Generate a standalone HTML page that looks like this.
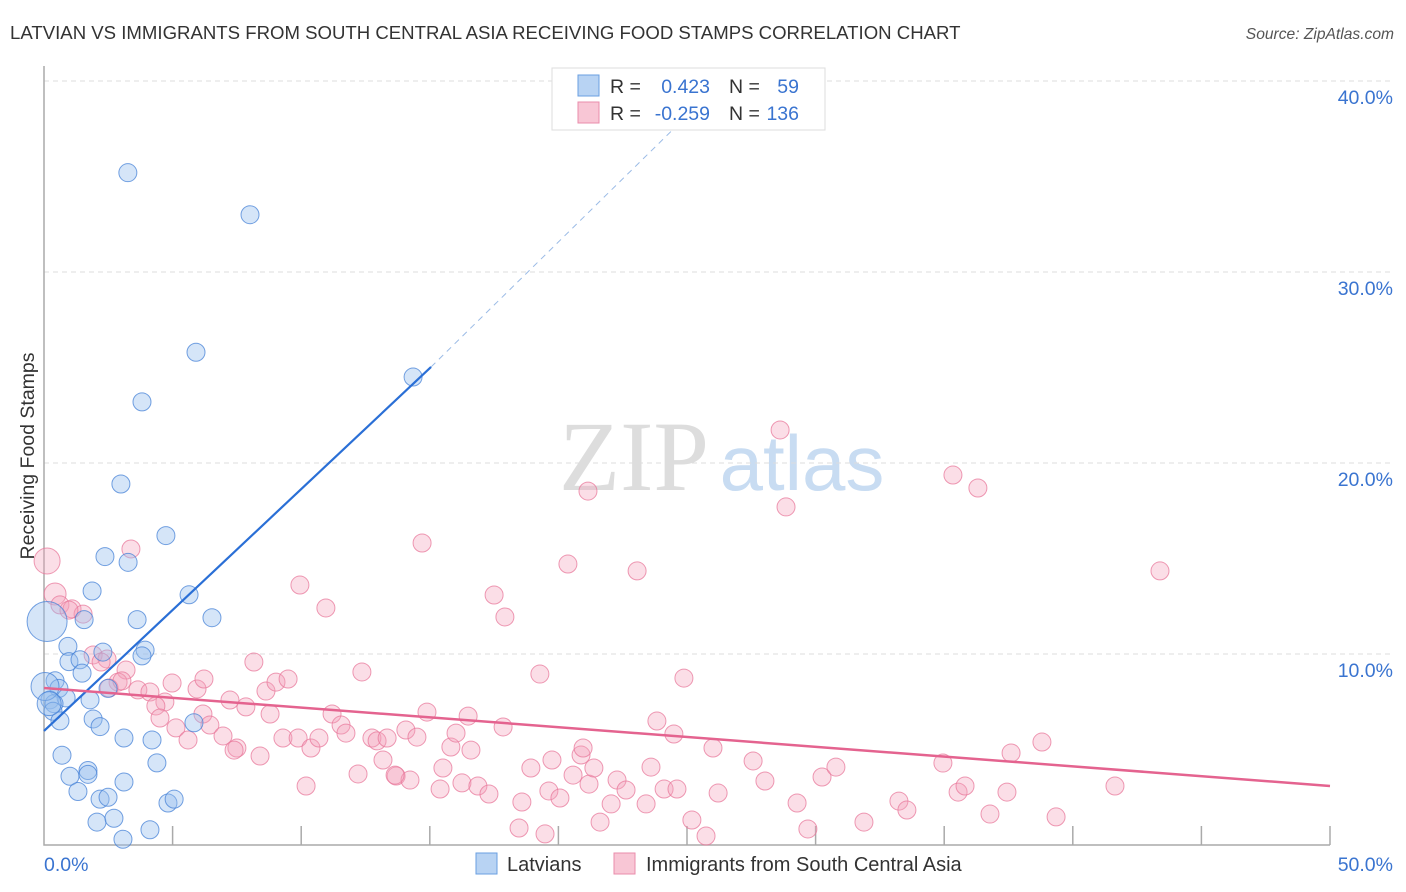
<!DOCTYPE html>
<html><head><meta charset="utf-8"><style>
body{margin:0;background:#fff;}
svg{display:block;font-family:"Liberation Sans",sans-serif;}
</style></head><body>
<svg id="chart" width="1406" height="892">
<text x="10" y="39" font-size="18.6" fill="#333">LATVIAN VS IMMIGRANTS FROM SOUTH CENTRAL ASIA RECEIVING FOOD STAMPS CORRELATION CHART</text>
<text x="1394" y="39" font-size="15.6" fill="#555" font-style="italic" text-anchor="end">Source: ZipAtlas.com</text>
<g>
<text x="634" y="490" font-family="Liberation Serif,serif" font-size="100" fill="#ddd" text-anchor="middle">ZIP</text>
<text x="802" y="490" font-size="78" fill="#c8dcf2" text-anchor="middle">atlas</text>
</g>
<g id="grid"></g>
<g id="axes"></g>
<g id="marks"></g>
<text transform="translate(34,456) rotate(-90)" font-size="19.5" fill="#333" text-anchor="middle">Receiving Food Stamps</text>
<g>
<rect x="552" y="68" width="273" height="62" fill="#fff" stroke="#ddd"/>
<rect x="578" y="75" width="21" height="21" fill="#b8d3f3" stroke="#6a9fe0"/>
<rect x="578" y="102" width="21" height="21" fill="#f8c6d5" stroke="#ea8cab"/>
<text x="610" y="93" font-size="19.5" fill="#333">R =</text>
<text x="710" y="93" font-size="19.5" fill="#3a74d0" text-anchor="end">0.423</text>
<text x="729" y="93" font-size="19.5" fill="#333">N =</text>
<text x="799" y="93" font-size="19.5" fill="#3a74d0" text-anchor="end">59</text>
<text x="610" y="120" font-size="19.5" fill="#333">R =</text>
<text x="710" y="120" font-size="19.5" fill="#3a74d0" text-anchor="end">-0.259</text>
<text x="729" y="120" font-size="19.5" fill="#333">N =</text>
<text x="799" y="120" font-size="19.5" fill="#3a74d0" text-anchor="end">136</text>
</g>
<g>
<rect x="476" y="853" width="21" height="21" fill="#b8d3f3" stroke="#6a9fe0"/>
<text x="507" y="871" font-size="20" fill="#333">Latvians</text>
<rect x="614" y="853" width="21" height="21" fill="#f8c6d5" stroke="#ea8cab"/>
<text x="646" y="871" font-size="20" fill="#333">Immigrants from South Central Asia</text>
</g>
</svg>
<script>
const xTicks=[0,5,10,15,20,25,30,35,40,45,50];
const yTicks=[10,20,30,40];
const yTickLabels=["10.0%","20.0%","30.0%","40.0%"];
const xEndLabels=["0.0%","50.0%"];
const blueX=[3.26,8.01,5.91,3.81,14.35,2.99,4.74,2.37,3.27,1.87,5.64,6.53,3.62,1.56,0.93,2.29,3.93,3.81,0.97,1.40,1.48,2.49,0.43,0.58,0.23,0.86,1.79,0.39,0.35,0.62,1.91,2.18,5.83,3.11,4.20,0.70,4.39,1.71,1.01,1.71,3.11,1.32,2.18,2.49,4.82,5.06,2.06,2.72,4.12,3.07,0.12,0.04,0.2];
const blueY=[35.2,33.0,25.8,23.2,24.5,18.9,16.2,15.1,14.8,13.3,13.1,11.9,11.8,11.8,10.4,10.1,10.2,9.9,9.6,9.7,9.0,8.2,8.6,8.2,7.6,7.7,7.6,7.4,7.0,6.5,6.6,6.2,6.4,5.6,5.5,4.7,4.3,3.9,3.6,3.7,3.3,2.8,2.4,2.5,2.2,2.4,1.2,1.4,0.8,0.3,11.7,8.3,7.4];
const blueR=[9,9,9,9,9,9,9,9,9,9,9,9,9,9,9,9,9,9,9,9,9,9,9,9,9,9,9,9,9,9,9,9,9,9,9,9,9,9,9,9,9,9,9,9,9,9,9,9,9,9,20,14,12];
const pinkX=[0.12,0.43,0.62,1.09,1.52,0.97,3.38,1.91,2.45,2.22,3.19,2.88,2.53,3.03,3.65,4.12,4.70,4.35,4.98,5.95,6.22,6.18,6.45,5.13,4.51,5.60,7.23,7.50,7.85,8.16,6.96,7.39,8.40,8.79,8.63,9.02,9.49,9.95,10.96,9.29,9.88,10.38,10.69,10.19,11.20,11.55,11.74,12.36,12.21,12.75,12.95,13.34,13.18,13.69,14.07,14.23,14.50,14.70,14.89,13.65,15.40,15.51,15.82,16.02,16.25,16.49,16.60,16.87,17.30,17.50,17.92,17.85,18.58,18.47,18.93,19.28,19.48,19.63,20.06,20.37,19.75,20.57,20.88,20.96,21.19,21.38,21.62,22.05,22.28,22.63,23.06,23.41,23.60,23.83,24.11,24.49,24.61,25.19,25.74,24.88,26.01,26.21,27.57,28.03,28.62,28.85,29.28,29.70,30.25,30.79,31.88,33.24,33.55,34.95,35.34,36.31,35.54,35.81,36.78,37.44,37.60,38.80,39.35,41.64,43.39,21.15];
const pinkY=[14.87,13.14,12.57,12.36,12.09,12.30,15.50,9.95,9.74,9.58,9.16,8.53,8.22,8.59,8.12,8.01,7.49,7.28,8.48,8.17,8.69,6.86,6.28,6.13,6.65,5.50,7.59,5.08,7.23,9.58,5.71,4.97,4.66,6.86,8.06,8.53,8.69,13.61,12.41,5.60,5.60,5.08,5.60,3.09,6.86,6.28,5.86,9.06,3.72,5.60,5.45,5.60,4.45,3.61,6.02,3.40,5.65,15.81,6.96,3.66,2.93,4.03,5.13,5.86,3.25,6.75,4.97,3.09,2.67,13.09,11.94,6.18,2.25,0.89,4.03,8.95,0.58,2.83,2.46,14.71,4.45,3.66,4.71,5.08,3.19,4.03,1.20,2.15,3.40,2.88,14.35,2.15,4.08,6.49,2.93,5.81,2.93,1.31,0.47,8.74,5.08,2.72,4.40,3.35,21.73,17.70,2.20,0.84,3.56,4.08,1.20,2.30,1.83,4.29,19.37,18.69,2.77,3.09,1.62,2.77,4.82,5.39,1.47,3.09,14.35,18.53];
const blueLine=[[0,5.97],[15.05,25.03]];
const blueDash=[[15.05,25.03],[26.3,39.9]];
const pinkLine=[[0,8.22],[50,3.09]];

const NS="http://www.w3.org/2000/svg";
const X=v=>44+v*25.72, Y=v=>845-v*19.1;
function mk(t,a,p){const e=document.createElementNS(NS,t);for(const k in a)e.setAttribute(k,a[k]);p.appendChild(e);return e;}
const grid=document.getElementById('grid'),axes=document.getElementById('axes'),marks=document.getElementById('marks');
yTicks.forEach((t,i)=>{
  const l=mk('line',{x1:44,x2:1393,y1:Y(t),y2:Y(t),stroke:'#ddd','stroke-dasharray':'5,4'},grid);
  
  
  const tx=mk('text',{x:1393,y:Y(t)+23,'font-size':19.5,fill:'#3a74d0','text-anchor':'end'},axes);
  tx.textContent=yTickLabels[i];
  
  
});
const ax=mk('path',{d:'M44,66 V845 H1330',fill:'none',stroke:'#aaa','stroke-width':1.5},axes);


xTicks.forEach(t=>{ if(t===0)return;
  const l=mk('line',{x1:X(t),x2:X(t),y1:826,y2:845,stroke:'#aaa','stroke-width':1.5},axes);
  
  
});
[[0,'start',44],[1,'end',1393]].forEach(([i,a,x])=>{
  const tx=mk('text',{x:x,y:871,'font-size':19.5,fill:'#3a74d0','text-anchor':a},axes);
  tx.textContent=xEndLabels[i];
  
  
});
pinkX.forEach((v,i)=>{
  const c=mk('circle',{cx:X(v),cy:Y(pinkY[i]),r:i===0?13:(i===1?11:9),fill:'rgba(244,160,186,0.35)',stroke:'rgba(232,120,155,0.75)','stroke-width':1},marks);
  
  
});
blueX.forEach((v,i)=>{
  const c=mk('circle',{cx:X(v),cy:Y(blueY[i]),r:blueR[i],fill:'rgba(150,190,238,0.4)',stroke:'rgba(70,130,215,0.75)','stroke-width':1},marks);
  
  
});
const bl=mk('line',{x1:X(blueLine[0][0]),y1:Y(blueLine[0][1]),x2:X(blueLine[1][0]),y2:Y(blueLine[1][1]),stroke:'#2a6fd6','stroke-width':2.2},marks);


const bd=mk('line',{x1:X(blueDash[0][0]),y1:Y(blueDash[0][1]),x2:X(blueDash[1][0]),y2:Y(blueDash[1][1]),stroke:'#9bbbe6','stroke-width':1,'stroke-dasharray':'6,5'},marks);


const pl=mk('line',{x1:X(pinkLine[0][0]),y1:Y(pinkLine[0][1]),x2:X(pinkLine[1][0]),y2:Y(pinkLine[1][1]),stroke:'#e4638f','stroke-width':2.5},marks);


</script>
</body></html>
